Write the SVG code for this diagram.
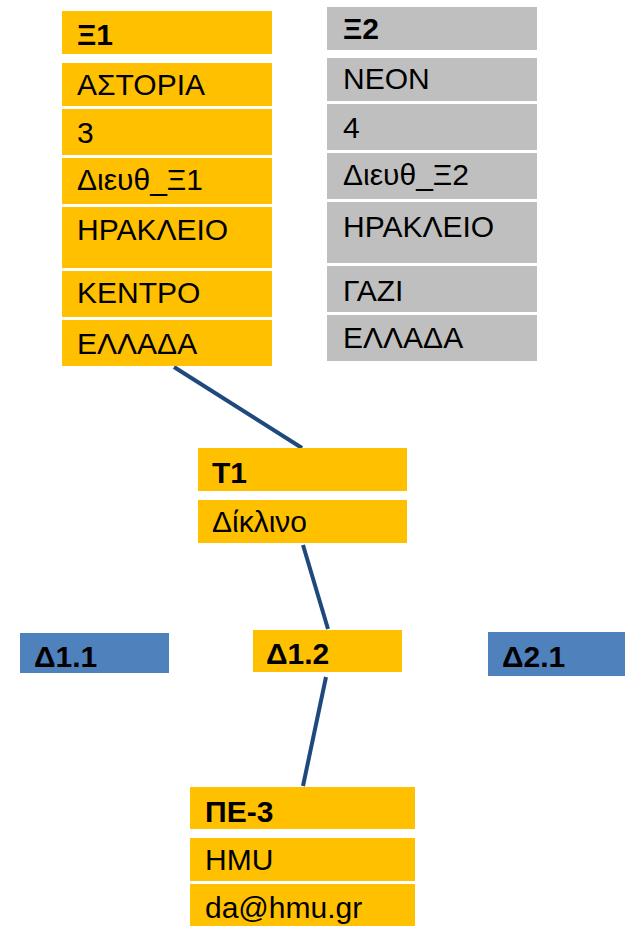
<svg xmlns="http://www.w3.org/2000/svg" width="625" height="926" viewBox="0 0 625 926">
<style>
.o{fill:#FFC000}
.g{fill:#BFBFBF}
.b{fill:#4F81BD}
text{font-family:"Liberation Sans","DejaVu Sans",sans-serif;font-size:30px;fill:#000}
.h{font-weight:bold}
.c{stroke:#1F497D;stroke-width:4;fill:none}
</style>
<rect width="625" height="926" fill="#fff"/>
<g id="connectors">
<line class="c" x1="174" y1="367" x2="302" y2="448"/>
<line class="c" x1="303" y1="545" x2="328" y2="629"/>
<line class="c" x1="326" y1="677" x2="303" y2="786"/>
</g>
<g id="X1">
<rect class="o" x="62" y="11" width="210" height="43"/>
<text class="h" x="77" y="45">Ξ1</text>
<rect class="o" x="62" y="63" width="210" height="43"/>
<text x="77" y="95">ΑΣΤΟΡΙΑ</text>
<rect class="o" x="62" y="109" width="210" height="46"/>
<text x="77" y="143">3</text>
<rect class="o" x="62" y="158" width="210" height="46"/>
<text x="77" y="190">Διευθ_Ξ1</text>
<rect class="o" x="62" y="207" width="210" height="61"/>
<text x="77" y="240">ΗΡΑΚΛΕΙΟ</text>
<rect class="o" x="62" y="271" width="210" height="46"/>
<text x="77" y="303">ΚΕΝΤΡΟ</text>
<rect class="o" x="62" y="320" width="210" height="46"/>
<text x="77" y="354">ΕΛΛΑΔΑ</text>
</g>
<g id="X2">
<rect class="g" x="327" y="7" width="210" height="43"/>
<text class="h" x="343" y="39">Ξ2</text>
<rect class="g" x="327" y="58" width="210" height="43"/>
<text x="343" y="89">ΝΕΟΝ</text>
<rect class="g" x="327" y="104" width="210" height="46"/>
<text x="343" y="138">4</text>
<rect class="g" x="327" y="153" width="210" height="46"/>
<text x="343" y="185">Διευθ_Ξ2</text>
<rect class="g" x="327" y="202" width="210" height="61"/>
<text x="343" y="237">ΗΡΑΚΛΕΙΟ</text>
<rect class="g" x="327" y="266" width="210" height="46"/>
<text x="343" y="301">ΓΑΖΙ</text>
<rect class="g" x="327" y="315" width="210" height="46"/>
<text x="343" y="348">ΕΛΛΑΔΑ</text>
</g>
<g id="T1">
<rect class="o" x="198" y="448" width="209" height="43"/>
<text class="h" x="212" y="483">Τ1</text>
<rect class="o" x="198" y="500" width="209" height="43"/>
<text x="212" y="532">Δίκλινο</text>
</g>
<g id="D11">
<rect class="b" x="20" y="633" width="149" height="40"/>
<text class="h" x="34" y="667">Δ1.1</text>
</g>
<g id="D12">
<rect class="o" x="253" y="630" width="149" height="42"/>
<text class="h" x="266" y="664">Δ1.2</text>
</g>
<g id="D21">
<rect class="b" x="488" y="632" width="137" height="44"/>
<text class="h" x="502" y="667">Δ2.1</text>
</g>
<g id="PE3">
<rect class="o" x="190" y="787" width="225" height="42"/>
<text class="h" x="205" y="822">ΠΕ-3</text>
<rect class="o" x="190" y="838" width="225" height="43"/>
<text x="205" y="870">HMU</text>
<rect class="o" x="190" y="884" width="225" height="42"/>
<text x="205" y="918">da@hmu.gr</text>
</g>
</svg>
